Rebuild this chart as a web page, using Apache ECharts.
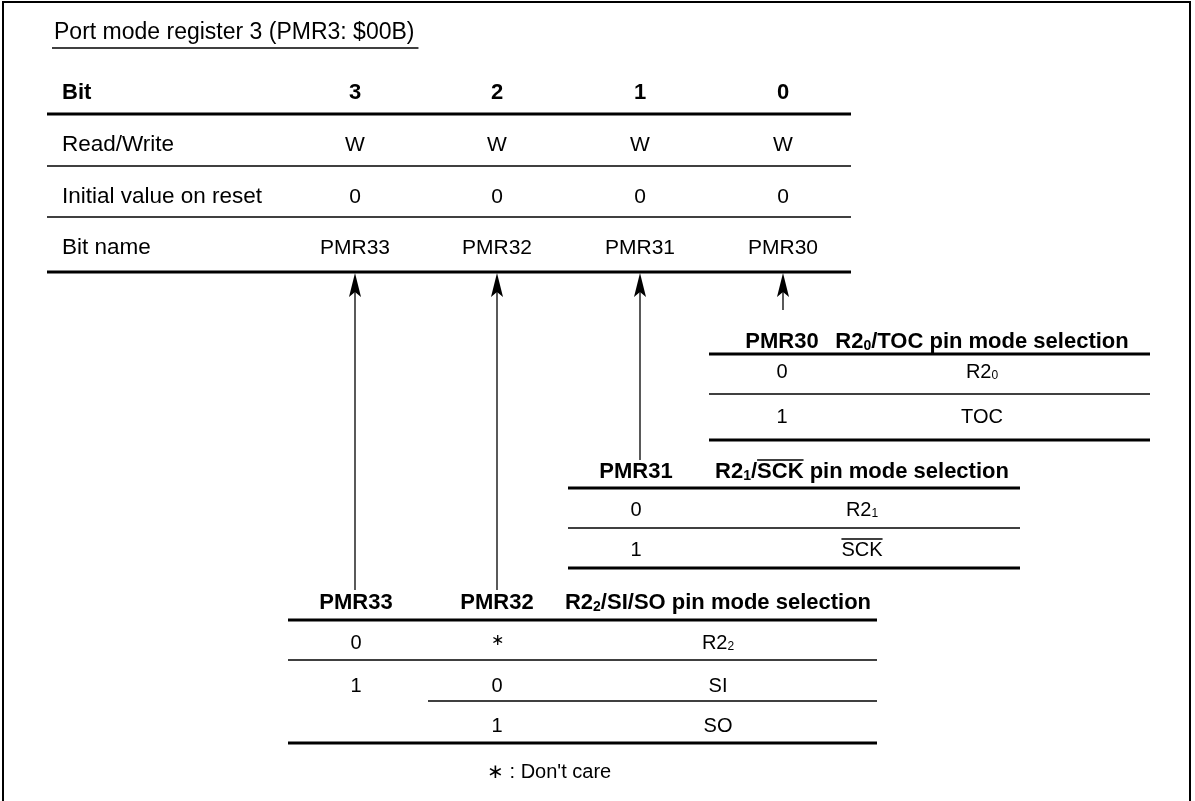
<!DOCTYPE html>
<html><head><meta charset="utf-8">
<script src="https://cdn.jsdelivr.net/npm/echarts@6/dist/echarts.min.js"></script>
<style>html,body{margin:0;padding:0;background:#fff}#c{width:1195px;height:801px}</style>
</head><body><div id="c"></div>
<script>
// ---- content ----
const titleText = 'Port mode register 3 (PMR3: $00B)';
const bitHeader = ['Bit', '3', '2', '1', '0'];
const rowLabels = ['Read/Write', 'Initial value on reset', 'Bit name'];
const readWrite = ['W', 'W', 'W', 'W'];
const initialValues = ['0', '0', '0', '0'];
const bitNames = ['PMR33', 'PMR32', 'PMR31', 'PMR30'];
const pmr30Header = ['PMR30', 'R2_{0}/TOC pin mode selection'];
const pmr30Rows = [['0', 'R2_{0}'], ['1', 'TOC']];
const pmr31Header = ['PMR31', 'R2_{1}/~{SCK} pin mode selection'];
const pmr31Rows = [['0', 'R2_{1}'], ['1', '~{SCK}']];
const pmr32Header = ['PMR33', 'PMR32', 'R2_{2}/SI/SO pin mode selection'];
const pmr32Rows = [['0', '\u2217', 'R2_{2}'], ['1', '0', 'SI'], ['', '1', 'SO']];
const footnote = '\u2217 : Don\'t care';

// ---- layout ----
const FONT = '"Liberation Sans", Arial, Helvetica, sans-serif';
const FS_TITLE = 23, FS_LABEL = 22.5, FS = 21, FSB = 22, FS_CELL = 20;
const L = {
  frame: {x1: 3, x2: 1190, y1: 2},
  title: {x: 54, y: 33, ul: 48},
  top: {left: 47, right: 851, labelX: 62, cols: [355, 497, 640, 783],
        rowsY: [93, 145, 197, 248], linesY: [114, 166, 217, 272], thick: [true, false, false, true]},
  arrowEnd: [590, 590, 460, 310],
  t30: {left: 709, right: 1150, cols: [782, 982], headY: 342, rowsY: [372, 417], lines: [[354, 3], [394, 1.5], [440, 3]]},
  t31: {left: 568, right: 1020, cols: [636, 862], headY: 472, rowsY: [510, 550], lines: [[488, 3], [528, 1.5], [568, 3]]},
  t32: {left: 288, right: 877, cols: [356, 497, 718], headY: 603, rowsY: [643, 686, 726],
        lines: [[620, 3, 288], [660, 1.5, 288], [701, 1.5, 428], [743, 3, 288]]},
  foot: {x: 487, y: 772}
};

const ctx = document.createElement('canvas').getContext('2d');
function fontStr(fs, bold) { return (bold ? 'bold ' : '') + fs + 'px ' + FONT; }
function measure(t, fs, bold) { ctx.font = fontStr(fs, bold); return ctx.measureText(t).width; }

const els = [];
function line(x1, y1, x2, y2, w) {
  els.push({type: 'line', silent: true, shape: {x1, y1, x2, y2}, style: {stroke: '#000', lineWidth: w}});
}
function parse(str) {
  const parts = str.split(/(_\{[^}]*\}|~\{[^}]*\})/).filter(s => s.length);
  return parts.map(p => {
    if (p.startsWith('_{')) return {t: p.slice(2, -1), kind: 'sub'};
    if (p.startsWith('~{')) return {t: p.slice(2, -1), kind: 'over'};
    return {t: p, kind: 'n'};
  });
}
function text(str, x, y, opt) {
  opt = opt || {};
  const fs = opt.fs || FS, bold = !!opt.bold, align = opt.align || 'center';
  const segs = parse(str);
  const subFs = Math.round(fs * 0.62);
  segs.forEach(s => { s.fs = s.kind === 'sub' ? subFs : fs; s.w = measure(s.t, s.fs, bold); });
  const total = segs.reduce((a, s) => a + s.w, 0);
  let cx = align === 'center' ? x - total / 2 : x;
  segs.forEach(s => {
    const yy = s.kind === 'sub' ? y + fs * 0.2 : y;
    els.push({type: 'text', silent: true, x: cx, y: yy,
      style: {text: s.t, fill: '#000', font: fontStr(s.fs, bold), align: 'left', verticalAlign: 'middle'}});
    if (s.kind === 'over') line(cx, y - fs * 0.5 - 1, cx + s.w, y - fs * 0.5 - 1, 1.3);
    cx += s.w;
  });
  return total;
}
function arrow(x, yTop, yBot) {
  line(x, yTop + 10, x, yBot, 1.3);
  els.push({type: 'polygon', silent: true,
    shape: {points: [[x, yTop + 1], [x + 6, yTop + 25], [x, yTop + 20], [x - 6, yTop + 25]]},
    style: {fill: '#000'}});
}

// frame
els.push({type: 'polyline', silent: true,
  shape: {points: [[L.frame.x1, 820], [L.frame.x1, L.frame.y1], [L.frame.x2, L.frame.y1], [L.frame.x2, 820]]},
  style: {stroke: '#000', lineWidth: 2, fill: null}});

// title
const tw = text(titleText, L.title.x, L.title.y, {align: 'left', fs: FS_TITLE});
line(L.title.x - 2, L.title.ul, L.title.x + tw + 4, L.title.ul, 1.3);

// top table
const T = L.top;
const topRows = [bitHeader.slice(1), readWrite, initialValues, bitNames];
const topLabels = [bitHeader[0]].concat(rowLabels);
topRows.forEach((vals, r) => {
  const bold = r === 0;
  text(topLabels[r], T.labelX, T.rowsY[r], {align: 'left', bold, fs: bold ? FSB : FS_LABEL});
  vals.forEach((v, i) => text(v, T.cols[i], T.rowsY[r], {bold, fs: bold ? FSB : FS}));
  line(T.left, T.linesY[r], T.right, T.linesY[r], T.thick[r] ? 3 : 1.5);
});

// arrows
T.cols.forEach((x, i) => arrow(x, T.linesY[3], L.arrowEnd[i]));

// selection tables
function selTable(cfg, header, rows) {
  header.forEach((h, i) => text(h, cfg.cols[i], cfg.headY, {bold: true, fs: FSB}));
  rows.forEach((row, r) => row.forEach((v, i) => {
    if (v) text(v, cfg.cols[i], cfg.rowsY[r] + (v === '\u2217' ? -2 : 0), {fs: v === '\u2217' ? 16 : FS_CELL});
  }));
  cfg.lines.forEach(l => line(l[2] !== undefined ? l[2] : cfg.left, l[0], cfg.right, l[0], l[1]));
}
selTable(L.t30, pmr30Header, pmr30Rows);
selTable(L.t31, pmr31Header, pmr31Rows);
selTable(L.t32, pmr32Header, pmr32Rows);

text(footnote, L.foot.x, L.foot.y, {align: 'left', fs: FS_CELL});

const chart = echarts.init(document.getElementById('c'), null, {renderer: 'canvas'});
chart.setOption({backgroundColor: '#fff', animation: false, graphic: {elements: els}});
</script></body></html>
